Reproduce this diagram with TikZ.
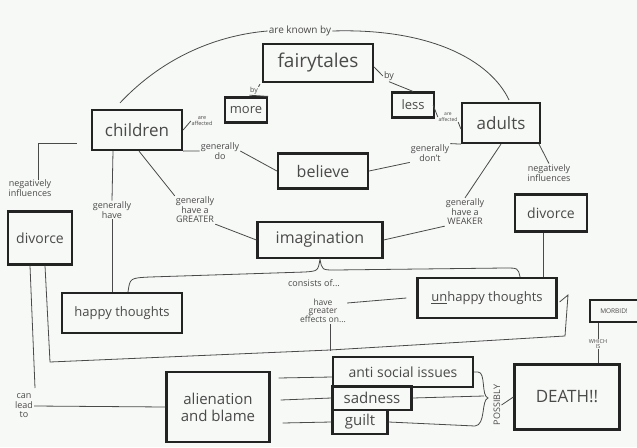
\documentclass[tikz,border=0pt]{standalone}
\usepackage{fontspec}
\setmainfont{Open Sans}
\definecolor{paper}{HTML}{F7F9F6}
\definecolor{ink}{HTML}{232323}
\definecolor{pen}{HTML}{4A4A4A}
\begin{document}
\begin{tikzpicture}[x=1pt,y=-1pt,
  box/.style={draw=ink,line width=2.2pt,inner sep=0pt,text=pen},
  lbl/.style={text=pen,align=center,inner sep=1pt,font=\fontsize{9}{9.5}\selectfont},
  tiny/.style={text=pen,align=center,inner sep=0.5pt,font=\fontsize{5.5}{5.5}\selectfont},
  con/.style={draw=pen,line width=0.8pt}]
\fill[paper] (0,0) rectangle (637,447);
\useasboundingbox (0,0) rectangle (637,447);
% boxes
\node[box,minimum width=110,minimum height=38,font=\fontsize{19}{20}\selectfont] (fairy) at (318,63) {fairytales};
\node[box,minimum width=42,minimum height=25,font=\fontsize{13}{14}\selectfont] (more) at (246,110) {more};
\node[box,minimum width=42,minimum height=25,font=\fontsize{13}{14}\selectfont] (less) at (413,105) {less};
\node[box,minimum width=90,minimum height=40,font=\fontsize{17}{18}\selectfont] (children) at (137,130) {children};
\node[box,minimum width=78,minimum height=40,font=\fontsize{17}{18}\selectfont] (adults) at (501,123) {adults};
\node[box,minimum width=90,minimum height=35,font=\fontsize{16}{17}\selectfont] (believe) at (323,171) {believe};
\node[box,minimum width=125,minimum height=36,font=\fontsize{16}{17}\selectfont] (imag) at (320,240) {imagination};
\node[box,minimum width=64,minimum height=53,font=\fontsize{14}{15}\selectfont] (divL) at (40,238) {divorce};
\node[box,minimum width=72,minimum height=37,font=\fontsize{14}{15}\selectfont] (divR) at (551,213) {divorce};
\node[box,minimum width=120,minimum height=40,font=\fontsize{13}{14}\selectfont] (happy) at (122,313) {happy thoughts};
\node[box,minimum width=139,minimum height=40,font=\fontsize{13}{14}\selectfont] (unhappy) at (487,298) {\underline{un}happy thoughts};
\node[box,minimum width=103,minimum height=70,align=center,font=\fontsize{15}{17}\selectfont] (alien) at (218,407) {alienation\\and blame};
\node[box,minimum width=140,minimum height=30,font=\fontsize{14}{15}\selectfont] (anti) at (403,372) {anti social issues};
\node[box,minimum width=79,minimum height=24,font=\fontsize{15}{16}\selectfont] (sad) at (372,398) {sadness};
\node[box,minimum width=55,minimum height=24,font=\fontsize{15}{16}\selectfont] (guilt) at (360,422) {guilt};
\node[box,minimum width=105,minimum height=65,font=\fontsize{17}{18}\selectfont] (death) at (567,397) {DEATH!!};
\node[box,minimum width=48,minimum height=22,line width=1.8pt,font=\fontsize{6.5}{7}\selectfont] (morbid) at (614,311) {MORBID!};
% labels
\node[lbl,font=\fontsize{10}{10}\selectfont] (known) at (300,31) {are known by};
\node[tiny,font=\fontsize{7}{7}\selectfont] (by1) at (254,91) {by};
\node[lbl] (by2) at (389,76) {by};
\node[tiny] (aff1) at (202,121) {are\\affected};
\node[tiny,font=\fontsize{5}{6}\selectfont] (aff2) at (448,117) {are\\affected};
\node[lbl] (gdo) at (220,151) {generally\\do};
\node[lbl] (gdont) at (430,153) {generally\\don't};
\node[lbl] (ggreat) at (195,210) {generally\\have a\\GREATER};
\node[lbl] (gweak) at (465,212) {generally\\have a\\WEAKER};
\node[lbl] (negL) at (30,188) {negatively\\influences};
\node[lbl] (negR) at (549,173) {negatively\\influences};
\node[lbl] (ghave) at (112,210) {generally\\have};
\node[lbl] (consists) at (314,283) {consists of...};
\node[lbl,font=\fontsize{8.5}{8}\selectfont] (effects) at (323,311) {have\\greater\\effects on...};
\node[lbl] (lead) at (24,406) {can\\lead\\to};
\node[lbl,rotate=90] (possibly) at (497,405) {POSSIBLY};
\node[tiny] (which) at (598,344) {WHICH\\IS};
% connectors
\draw[con] ([xshift=-17pt,yshift=6pt]children.north) .. controls (165,55) and (220,35) .. (known.west);
\draw[con] (known.east) .. controls (430,28) and (490,60) .. ([xshift=8pt,yshift=2pt]adults.north);
\draw[con] ([xshift=-2pt,yshift=-1pt]fairy.south west) -- (by1.north east);
\draw[con] (by1.south west) -- (more.north east);
\draw[con] ([yshift=-4pt]fairy.east) -- (by2.west);
\draw[con] (by2.south) -- (less.north);
\draw[con] (children.east) -- (aff1.west);
\draw[con] ([xshift=-2pt]less.east) -- (aff2.west);
\draw[con] (aff2.south east) -- ([yshift=-6pt]adults.west);
\draw[con] (children.south east) -- (gdo.west);
\draw[con] (gdo.east) -- (believe.west);
\draw[con] (adults.south west) -- (gdont.north east);
\draw[con] (gdont.south west) -- (believe.east);
\draw[con] ([xshift=2pt]children.south) -- (ggreat.north west);
\draw[con] (ggreat.south east) -- (imag.west);
\draw[con] (adults.south) -- (gweak.north);
\draw[con] (gweak.south west) -- (imag.east);
\draw[con] ([yshift=-13pt,xshift=-14pt]children.west) -- (38,143) -- (38,180);
\draw[con] ([xshift=38pt]adults.south) -- (negR.north);
\draw[con] ([xshift=-24pt]children.south) -- (ghave.north);
\draw[con] (ghave.south) -- (ghave.south |- happy.north);
\draw[con] ([xshift=-8pt]divR.south) -- ([xshift=-8pt]divR.south |- unhappy.north);
% brace from imagination
\draw[con] ([xshift=6pt]happy.north) .. controls (130,278) .. (150,277) -- (305,272) .. controls (318,271) .. (imag.south) .. controls (322,270) .. (335,270) -- (505,268) .. controls (518,268) .. ([xshift=33pt]unhappy.north);
\draw[con] ([yshift=8pt]effects.east) -- ([xshift=-10pt]unhappy.west);
% big bracket
\draw[con] ([xshift=5pt]divL.south) -- (50,362) -- (330,350) -- (565,336) -- (568,295) -- ([xshift=2pt,yshift=-4pt]unhappy.east);
\draw[con] ([xshift=7pt]effects.south) -- (330,351);
\draw[con] ([xshift=-10pt]divL.south) -- (35,388);
\draw[con] (lead.east) -- (alien.west);
\draw[con] ([xshift=8pt,yshift=29pt]alien.east) -- (anti.west |- 0,377);
\draw[con] ([xshift=10pt,yshift=7pt]alien.east) -- (sad.west);
\draw[con] ([xshift=12pt,yshift=-16pt]alien.east) -- (guilt.west);
% right brace
\draw[con] (anti.east) -- (478,372) .. controls (486,372) and (481,396) .. (488,398) .. controls (481,400) and (486,425) .. (475,426) -- (guilt.east);
\draw[con] (sad.east) -- (484,396);
\draw[con] (possibly.south) -- (death.west);
\draw[con] ([xshift=-16pt]morbid.south) -- (which.north);
\draw[con] (which.south) -- (which.south |- death.north);
\end{tikzpicture}
\end{document}
